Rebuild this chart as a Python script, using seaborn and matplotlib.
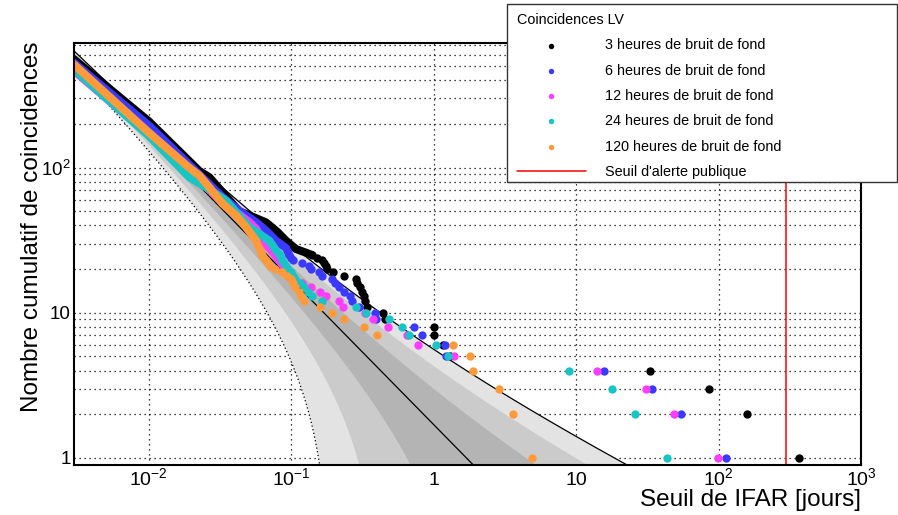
import numpy as np
import matplotlib
matplotlib.use("Agg")
import matplotlib.pyplot as plt
import seaborn as sns
from matplotlib.ticker import FixedLocator, NullFormatter, FuncFormatter, LogLocator
from matplotlib.patches import Rectangle

# ---------------- data (IFAR in days, cumulative counts) ----------------
LABELS = ["3 heures de bruit de fond", "6 heures de bruit de fond",
          "12 heures de bruit de fond", "24 heures de bruit de fond",
          "120 heures de bruit de fond"]
COLORS = ["#000000", "#3a3aff", "#ff3cff", "#18c4c4", "#ff9a3a"]

# sparse tail: counts 25 ... 1
COUNTS = [25, 24, 23, 22, 21, 20, 19, 18, 17, 16, 15, 14, 13, 12, 11,
          10, 9, 8, 7, 6, 5, 4, 3, 2, 1]

BLACK_IFAR = [0.1411, 0.153, 0.1659, 0.1713, 0.1761, 0.1784, 0.1982, 0.2367,
              0.286, 0.2921, 0.3066, 0.3167, 0.327, 0.3324, 0.3418, 0.4447,
              0.4595, 1.003, 1.015, 1.16, 1.314, 32.98, 85.2, 159.3, 366.9]
BLUE_IFAR = [0.0973, 0.1005, 0.1038, 0.1201, 0.1344, 0.1389, 0.158, 0.1659,
             0.195, 0.2047, 0.2184, 0.2367, 0.2609, 0.2694, 0.3017, 0.3889,
             0.3953, 0.7345, 0.8263, 1.206, 1.222, 15.78, 34.07, 54.45, 112.2]
MAGENTA_IFAR = [0.0776, 0.0801, 0.0828, 0.0855, 0.0883, 0.0912, 0.0942, 0.0973,
                0.1005, 0.1201, 0.1382, 0.1606, 0.177, 0.2184, 0.2304, 0.3309,
                0.3784, 0.4799, 0.6483, 0.7745, 1.402, 14.0, 31.1, 48.9, 98.6]
CYAN_IFAR = [0.0841, 0.0855, 0.0869, 0.0897, 0.0927, 0.0957, 0.1005, 0.1038,
             0.1072, 0.1162, 0.124, 0.1323, 0.1411, 0.1659, 0.286, 0.3363,
             0.49, 0.598, 0.677, 1.043, 1.258, 8.96, 17.84, 25.75, 43.7]
ORANGE_IFAR = [0.0629, 0.0649, 0.0671, 0.0693, 0.0716, 0.0776, 0.0869, 0.0942,
               0.1005, 0.1038, 0.1072, 0.1144, 0.1181, 0.124, 0.1606, 0.195,
               0.234, 0.327, 0.4017, 1.364, 1.816, 1.906, 2.87, 3.60, 4.925]

# dense head (hundreds of overlapping points), read as a chain of anchors
BLACK_DENSE_IFAR = [0.00296, 0.0101, 0.0227, 0.0267, 0.0433, 0.0483, 0.0667,
                    0.0805, 0.0922, 0.1084, 0.124, 0.1411]
BLACK_DENSE_N = [565, 208, 95, 86, 50, 48, 42, 36, 31.4, 27.5, 26.2, 25]
BLUE_DENSE_IFAR = [0.00296, 0.0101, 0.0331, 0.0433, 0.0568, 0.0667, 0.0785,
                   0.0922, 0.0973]
BLUE_DENSE_N = [535, 195, 62.7, 50.6, 42.2, 36.9, 31.4, 28, 25]
MAGENTA_DENSE_IFAR = [0.00296, 0.0101, 0.0331, 0.0509, 0.0568, 0.0649, 0.0776]
MAGENTA_DENSE_N = [470, 168, 58, 42.2, 38, 30.6, 25]
CYAN_DENSE_IFAR = [0.00296, 0.0101, 0.0193, 0.0253, 0.035, 0.0509, 0.0599,
                   0.0704, 0.0785, 0.0841]
CYAN_DENSE_N = [480, 165, 86, 73.3, 59.3, 39, 35, 31.4, 26.9, 25]
ORANGE_DENSE_IFAR = [0.00296, 0.0101, 0.0193, 0.0227, 0.0267, 0.0331, 0.0411,
                     0.0483, 0.0568, 0.0629]
ORANGE_DENSE_N = [520, 174, 100, 88.4, 73.3, 56.4, 46.9, 39, 31.4, 25]

T_OBS = 1.7          # foreground time (days) -> expected background = T/IFAR
ALERT_IFAR = 300.0   # public alert threshold
X_TICKS = [1e-2, 1e-1, 1, 10, 100, 1000]
Y_TICKS = [1, 10, 100]

# ---------------- style ----------------
sns.set_theme(style="white")
plt.rcParams["font.family"] = ["Liberation Sans", "DejaVu Sans"]
plt.rcParams["mathtext.fontset"] = "custom"
plt.rcParams["mathtext.rm"] = "Liberation Sans"
plt.rcParams["mathtext.it"] = "Liberation Sans:italic"
plt.rcParams["mathtext.bf"] = "Liberation Sans:bold"
plt.rcParams["text.color"] = "black"
plt.rcParams["axes.labelcolor"] = "black"
plt.rcParams["xtick.color"] = "black"
plt.rcParams["ytick.color"] = "black"
plt.rcParams["axes.edgecolor"] = "black"

fig = plt.figure(figsize=(8.98, 5.15), dpi=100)
fig.patch.set_facecolor("white")
ax = fig.add_axes([74 / 898, 1 - 464.5 / 515, 787 / 898, 421.2 / 515])
ax.set_facecolor("white")
ax.set_xscale("log")
ax.set_yscale("log")
ax.set_xlim(0.003, 1000)
ax.set_ylim(0.9, 720)

# ---------------- expected background bands ----------------
gx = np.logspace(np.log10(0.003), 3, 3000)
mu = T_OBS / gx
sg = np.sqrt(mu)
band_cols = {3: "#e3e3e3", 2: "#cbcbcb", 1: "#b4b4b4"}
for k in (3, 2, 1):
    lo = np.clip(mu - k * sg, 1e-4, None)
    hi = mu + k * sg
    ax.fill_between(gx, lo, hi, color=band_cols[k], lw=0, zorder=1)
ax.plot(gx, mu, color="black", lw=0.9, zorder=1.5)
ax.plot(gx, mu + 3 * sg, color="black", lw=0.9, zorder=1.5)
low3 = mu - 3 * sg
low3 = np.where(low3 > 0, low3, np.nan)
ax.plot(gx, low3, color="black", lw=0.9, ls=(0, (1, 2)), zorder=1.5)

# ---------------- data series ----------------
dense = [(BLACK_DENSE_IFAR, BLACK_DENSE_N), (BLUE_DENSE_IFAR, BLUE_DENSE_N),
         (MAGENTA_DENSE_IFAR, MAGENTA_DENSE_N), (CYAN_DENSE_IFAR, CYAN_DENSE_N),
         (ORANGE_DENSE_IFAR, ORANGE_DENSE_N)]
sparse = [BLACK_IFAR, BLUE_IFAR, MAGENTA_IFAR, CYAN_IFAR, ORANGE_IFAR]

for (dx, dy), sx, col, lab in zip(dense, sparse, COLORS, LABELS):
    sns.lineplot(x=dx, y=dy, color=col, lw=5.8, estimator=None, sort=False,
                 ax=ax, legend=False, solid_capstyle="round",
                 solid_joinstyle="round", zorder=3)
    sns.scatterplot(x=sx, y=COUNTS, color=col, s=36, linewidth=0, ax=ax,
                    label=lab, legend=False, zorder=3)

ax.axvline(ALERT_IFAR, color="#ff0000", lw=1.1, zorder=2.6,
           label="Seuil d'alerte publique")

# ---------------- axes / grid ----------------
def fmt(v, pos=None):
    e = int(round(np.log10(v)))
    if e == 0:
        return "1"
    if e == 1:
        return "10"
    return r"$\mathregular{10^{%d}}$" % e

ax.xaxis.set_major_locator(FixedLocator(X_TICKS))
ax.xaxis.set_minor_locator(LogLocator(base=10, subs=np.arange(2, 10), numticks=20))
ax.xaxis.set_major_formatter(FuncFormatter(fmt))
ax.xaxis.set_minor_formatter(NullFormatter())
ax.yaxis.set_major_locator(FixedLocator(Y_TICKS))
ax.yaxis.set_minor_locator(LogLocator(base=10, subs=np.arange(2, 10), numticks=20))
ax.yaxis.set_major_formatter(FuncFormatter(fmt))
ax.yaxis.set_minor_formatter(NullFormatter())

ax.set_axisbelow(True)
dot = (0, (1, 3))
ax.grid(True, which="major", axis="x", color="black", ls=dot, lw=0.9)
ax.grid(True, which="both", axis="y", color="black", ls=dot, lw=0.9)

ax.tick_params(which="both", direction="in", top=False, right=False,
               colors="black", width=1)
ax.tick_params(which="major", length=6.5)
ax.tick_params(which="minor", length=3.2)
ax.tick_params(axis="x", which="major", pad=14.8, labelsize=14)
ax.tick_params(axis="y", which="major", pad=2.5, labelsize=13.5)
for sp in ax.spines.values():
    sp.set_linewidth(1.5)
    sp.set_color("black")
    sp.set_zorder(4)

ax.set_xlabel("Seuil de IFAR [jours]", fontsize=17.5, loc="right")
ax.xaxis.label.set_verticalalignment("baseline")
ax.xaxis.set_label_coords(1.0, (464.5 - 506) / 421.2)
ax.set_ylabel("Nombre cumulatif de coincidences", fontsize=17.5, loc="top")
ax.yaxis.label.set_verticalalignment("baseline")
ax.yaxis.set_label_coords((38 - 74) / 787, (464.5 - 41) / 421.2)

# ---------------- legend ----------------
handles, labels = ax.get_legend_handles_labels()
fig.patches.append(Rectangle((507 / 898, 1 - 182 / 515), 390 / 898, 178 / 515,
                             transform=fig.transFigure, facecolor="white",
                             edgecolor="#333333", lw=1, zorder=3))
leg = fig.legend(handles, labels, loc="upper left",
                 bbox_to_anchor=(509.5 / 898, 1 - 6 / 515),
                 bbox_transform=fig.transFigure, frameon=False,
                 title="Coincidences LV", alignment="left",
                 fontsize=10.4, title_fontsize=10.4, handlelength=4.8,
                 handletextpad=1.33, labelspacing=0.78, borderpad=0.5,
                 borderaxespad=0, markerscale=0.65, scatterpoints=1)
leg.set_zorder(5)

fig.canvas.draw()
for t in ax.xaxis.get_major_ticks():
    t.label1.set_verticalalignment("baseline")

fig.savefig("out.png", dpi=100)
